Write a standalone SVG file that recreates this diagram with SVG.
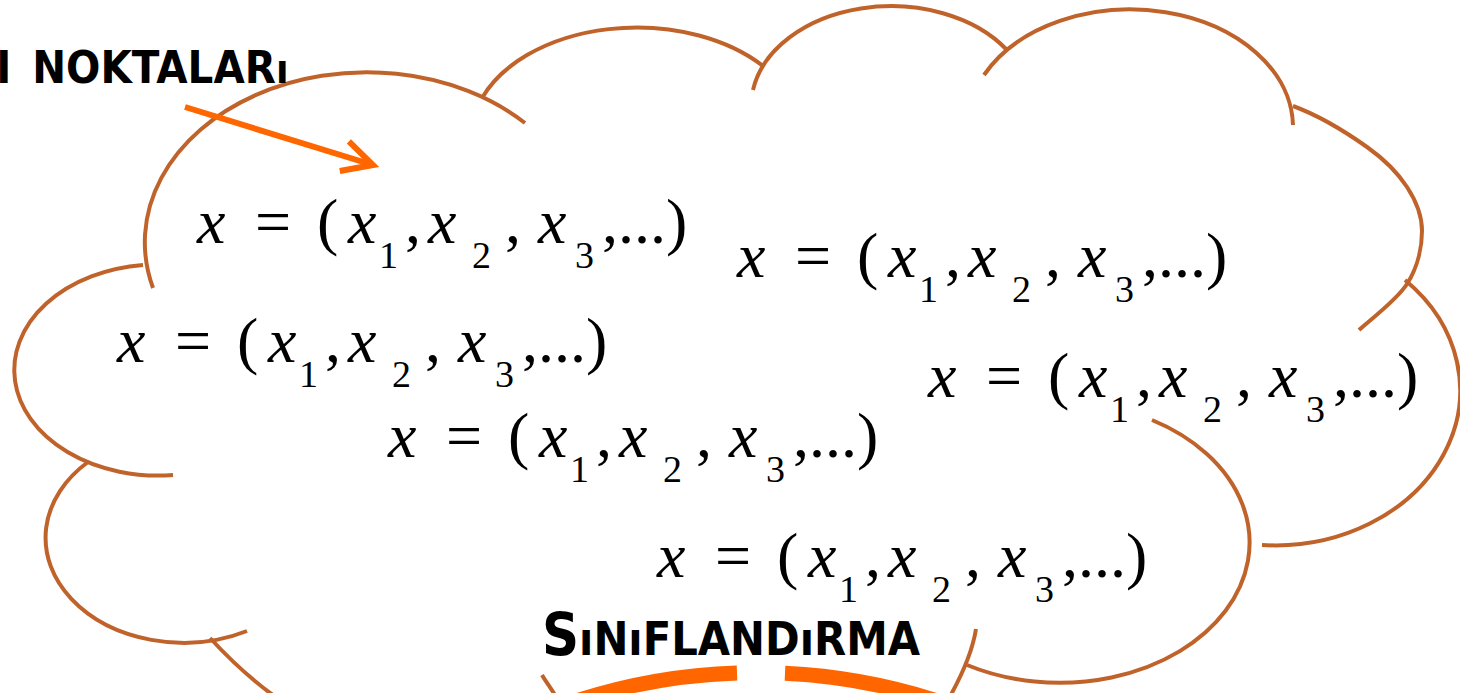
<svg xmlns="http://www.w3.org/2000/svg" width="1460" height="693" viewBox="0 0 1460 693">
  <style>
    .cl { fill: none; stroke: #C0632B; stroke-width: 4; stroke-linecap: butt; }
    .fm { font-family: 'Liberation Serif', 'Times New Roman', serif; fill: #000; }
    .f { font-size: 64px; }
    .it { font-style: italic; }
    .sub { font-size: 38px; }
    .lab { font-family: 'DejaVu Sans', sans-serif; font-weight: 700; fill: #000; }
    .arr { fill: none; stroke: #FF6600; stroke-width: 6; }
    .band { fill: none; stroke: #FF6600; stroke-width: 15; stroke-linecap: butt; }
  </style>
  <defs>
    <marker id="ah" markerUnits="userSpaceOnUse" viewBox="-40 -22 46 44" refX="0" refY="0" markerWidth="46" markerHeight="44" orient="auto" overflow="visible">
      <path d="M-30,-15.5 L0,0 L-30,15.5" fill="none" stroke="#FF6600" stroke-width="6" stroke-linejoin="miter"/>
    </marker>
  </defs>
  <rect width="1460" height="693" fill="#FFFFFF"/>

  <g id="cloud">
    <path class="cl" d="M153,288 A222,170 0 0 1 525,123"/>
    <path class="cl" d="M482,98 A166,110 0 0 1 763,66"/>
    <path class="cl" d="M753,90 A140,100 0 0 1 1007,50"/>
    <path class="cl" d="M984,75 A163,118 0 0 1 1293,125"/>
    <path class="cl" d="M1293,106 C1320,116 1348,133.5 1367,147 C1386,160.5 1397.8,173 1407,187 C1416.2,201 1422,214.8 1422,231 C1422,247.2 1417.5,267.5 1407,284 C1396.5,300.5 1367,322.3 1359,330"/>
    <path class="cl" d="M1405,280 A185,155 0 0 1 1262,545"/>
    <path class="cl" d="M1152,420 A187,138 0 1 1 967,665"/>
    <path class="cl" d="M976,629 C973,648 965,670 948,700"/>
    <path class="cl" d="M542,675 C546,682 551,688 558,700"/>
    <path class="cl" d="M210,638 C235,665 255,683 280,700"/>
    <path class="cl" d="M247,631 A138,105 0 0 1 88,462"/>
    <path class="cl" d="M173,475 A143,105 0 0 1 143,265"/>
  </g>

  <g id="formula1" class="fm" transform="translate(197,243)">
    <text class="f it" x="0" y="0">x</text>
    <text class="f" x="58" y="0">=</text>
    <text class="f" x="120" y="0">(</text>
    <text class="f it" x="151" y="0">x</text>
    <text class="sub" x="182" y="25">1</text>
    <text class="f" x="208" y="0">,</text>
    <text class="f it" x="231" y="0">x</text>
    <text class="sub" x="275" y="25">2</text>
    <text class="f" x="308" y="0">,</text>
    <text class="f it" x="341" y="0">x</text>
    <text class="sub" x="378" y="25">3</text>
    <text class="f" x="405" y="0">,...</text>
    <text class="f" x="469" y="0">)</text>
  </g>
  <g id="formula2" class="fm" transform="translate(737,277)">
    <text class="f it" x="0" y="0">x</text>
    <text class="f" x="58" y="0">=</text>
    <text class="f" x="120" y="0">(</text>
    <text class="f it" x="151" y="0">x</text>
    <text class="sub" x="182" y="25">1</text>
    <text class="f" x="208" y="0">,</text>
    <text class="f it" x="231" y="0">x</text>
    <text class="sub" x="275" y="25">2</text>
    <text class="f" x="308" y="0">,</text>
    <text class="f it" x="341" y="0">x</text>
    <text class="sub" x="378" y="25">3</text>
    <text class="f" x="405" y="0">,...</text>
    <text class="f" x="469" y="0">)</text>
  </g>
  <g id="formula3" class="fm" transform="translate(117,362)">
    <text class="f it" x="0" y="0">x</text>
    <text class="f" x="58" y="0">=</text>
    <text class="f" x="120" y="0">(</text>
    <text class="f it" x="151" y="0">x</text>
    <text class="sub" x="182" y="25">1</text>
    <text class="f" x="208" y="0">,</text>
    <text class="f it" x="231" y="0">x</text>
    <text class="sub" x="275" y="25">2</text>
    <text class="f" x="308" y="0">,</text>
    <text class="f it" x="341" y="0">x</text>
    <text class="sub" x="378" y="25">3</text>
    <text class="f" x="405" y="0">,...</text>
    <text class="f" x="469" y="0">)</text>
  </g>
  <g id="formula4" class="fm" transform="translate(928,397)">
    <text class="f it" x="0" y="0">x</text>
    <text class="f" x="58" y="0">=</text>
    <text class="f" x="120" y="0">(</text>
    <text class="f it" x="151" y="0">x</text>
    <text class="sub" x="182" y="25">1</text>
    <text class="f" x="208" y="0">,</text>
    <text class="f it" x="231" y="0">x</text>
    <text class="sub" x="275" y="25">2</text>
    <text class="f" x="308" y="0">,</text>
    <text class="f it" x="341" y="0">x</text>
    <text class="sub" x="378" y="25">3</text>
    <text class="f" x="405" y="0">,...</text>
    <text class="f" x="469" y="0">)</text>
  </g>
  <g id="formula5" class="fm" transform="translate(388,457)">
    <text class="f it" x="0" y="0">x</text>
    <text class="f" x="58" y="0">=</text>
    <text class="f" x="120" y="0">(</text>
    <text class="f it" x="151" y="0">x</text>
    <text class="sub" x="182" y="25">1</text>
    <text class="f" x="208" y="0">,</text>
    <text class="f it" x="231" y="0">x</text>
    <text class="sub" x="275" y="25">2</text>
    <text class="f" x="308" y="0">,</text>
    <text class="f it" x="341" y="0">x</text>
    <text class="sub" x="378" y="25">3</text>
    <text class="f" x="405" y="0">,...</text>
    <text class="f" x="469" y="0">)</text>
  </g>
  <g id="formula6" class="fm" transform="translate(657,577)">
    <text class="f it" x="0" y="0">x</text>
    <text class="f" x="58" y="0">=</text>
    <text class="f" x="120" y="0">(</text>
    <text class="f it" x="151" y="0">x</text>
    <text class="sub" x="182" y="25">1</text>
    <text class="f" x="208" y="0">,</text>
    <text class="f it" x="231" y="0">x</text>
    <text class="sub" x="275" y="25">2</text>
    <text class="f" x="308" y="0">,</text>
    <text class="f it" x="341" y="0">x</text>
    <text class="sub" x="378" y="25">3</text>
    <text class="f" x="405" y="0">,...</text>
    <text class="f" x="469" y="0">)</text>
  </g>

  <g id="label-noktalar">
    <text class="lab" font-size="44" transform="translate(0,83) scale(0.92,1)"><tspan x="-4">I</tspan><tspan x="35">NOKTALAR</tspan><tspan font-size="40">ı</tspan></text>
  </g>
  <g id="label-siniflandirma">
    <text class="lab" x="542" y="655" font-size="47" textLength="378" lengthAdjust="spacingAndGlyphs"><tspan font-size="58">S</tspan>ıNıFLANDıRMA</text>
  </g>

  <g id="connectors">
    <path class="arr" d="M185,107 L373,165" marker-end="url(#ah)"/>
    <path class="band" d="M540,714 A585,585 0 0 1 737,672.9"/>
    <path class="band" d="M785,673.3 A585,585 0 0 1 975,714.7"/>
  </g>
</svg>
